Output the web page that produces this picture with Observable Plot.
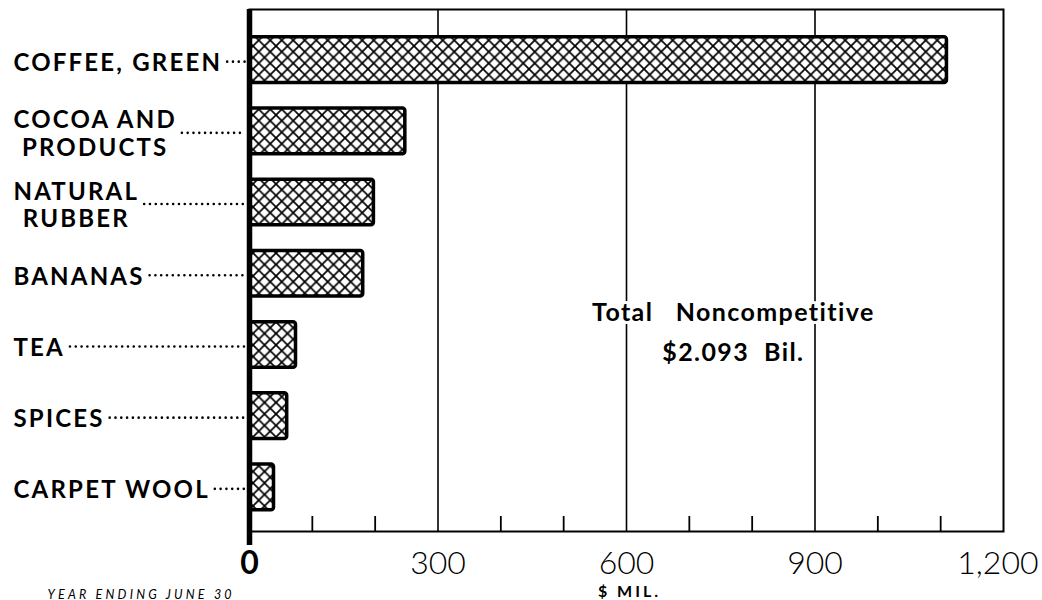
<!DOCTYPE html>
<html><head><meta charset="utf-8">
<script src="https://cdn.jsdelivr.net/npm/d3@7"></script>
<script src="https://cdn.jsdelivr.net/npm/@observablehq/plot@0.6"></script>
<style>
body{margin:0;background:#fff;}
#chart svg{display:block;}
</style></head><body><div id="chart"></div>
<script>
// ---- data ----
const categories = ["COFFEE, GREEN", "COCOA AND\nPRODUCTS", "NATURAL\nRUBBER", "BANANAS", "TEA", "SPICES", "CARPET WOOL"];
const values = [1110, 248, 198, 181, 74, 60, 39];
const majorTicks = [0, 300, 600, 900, 1200];
const majorTickLabels = ["0", "300", "600", "900", "1,200"];
const gridValues = [300, 600, 900];
const minorTicks = [100, 200, 400, 500, 700, 800, 1000, 1100];
const axisLabel = "$ MIL.";
const noteLines = ["Total\u00a0\u00a0 Noncompetitive", "$2.093\u00a0 Bil."];
const noteX = 770;
const caption = "YEAR ENDING JUNE 30";

const data = categories.map((c, i) => ({category: c, value: values[i]}));
const ticks = majorTicks.map((v, i) => ({value: v, label: majorTickLabels[i]}));
const note = [{x: noteX, text: noteLines.join("\n")}];

const W = 1042, H = 600, mL = 249, mR = 39, mT = 9, mB = 69;
const tickFont = {frameAnchor: "bottom", dy: 32, lineAnchor: "middle", fontSize: 32, fontFamily: "Lato", fill: "#000"};
const plot = Plot.plot({
  width: W, height: H, marginLeft: mL, marginRight: mR, marginTop: mT, marginBottom: mB,
  x: {domain: [0, 1200], axis: null},
  y: {domain: categories, axis: null, paddingInner: 0.36, paddingOuter: 0.3, insetTop: 6.5, round: false},
  style: {background: "#fff", color: "#000"},
  marks: [
    Plot.ruleX(gridValues, {stroke: "#000", strokeWidth: 1.6}),
    Plot.ruleX(minorTicks, {stroke: "#000", strokeWidth: 1.8, insetTop: H - mT - mB - 15}),
    Plot.frame({stroke: "#000", strokeWidth: 2}),
    Plot.barX(data, {x: "value", y: "category", fill: "url(#xhatch)", stroke: "#000", strokeWidth: 3.5, rx: 2.5}),
    Plot.ruleX([0], {stroke: "#000", strokeWidth: 5.5, insetBottom: -14}),
    Plot.text(data, {y: "category", text: "category", frameAnchor: "left", textAnchor: "start", dx: -236, dy: 2,
      fontSize: 24, fontWeight: 700, fontFamily: "Lato", lineHeight: 1.15, lineAnchor: "middle", fill: "#000"}),
    Plot.text(ticks.slice(0, 1), {...tickFont, x: "value", text: "label", fontWeight: 700}),
    Plot.text(ticks.slice(1, -1), {...tickFont, x: "value", text: "label", fontWeight: 300}),
    Plot.text(ticks.slice(-1), {...tickFont, x: "value", text: "label", fontWeight: 300, textAnchor: "end", dx: 35}),
    Plot.text([axisLabel], {text: d => d, frameAnchor: "bottom", dy: 60, dx: 3, lineAnchor: "middle",
      fontSize: 16, fontWeight: 700, fontFamily: "Lato", fill: "#000"}),
    Plot.text([caption], {text: d => d, frameAnchor: "bottom-left", textAnchor: "start", dx: -202, dy: 63, lineAnchor: "middle",
      fontSize: 12.5, fontStyle: "italic", fontFamily: "Lato", fill: "#000"}),
    Plot.text(note, {x: "x", text: "text", frameAnchor: "top", dy: 319, lineAnchor: "middle", lineHeight: 1.6,
      fontSize: 25, fontWeight: 700, fontFamily: "Lato", fill: "#000", stroke: "#fff", strokeWidth: 6})
  ]
});

// hatch pattern
const ns = "http://www.w3.org/2000/svg";
const defs = document.createElementNS(ns, "defs");
const P = 11.5;
defs.innerHTML = `<pattern id="xhatch" patternUnits="userSpaceOnUse" width="${P}" height="${P}">
<rect width="${P}" height="${P}" fill="#fff"/>
<path d="M0,0L${P},${P}M${P},0L0,${P}M-2,${P-2}L2,${P+2}M${P-2},-2L${P+2},2" stroke="#000" stroke-width="1.7" fill="none"/>
</pattern>`;
plot.insertBefore(defs, plot.firstChild);

document.getElementById("chart").append(plot);

// text styling (letter spacing per text mark, in mark order)
const groups = plot.querySelectorAll('g[aria-label="text"]');
const spacing = ["2.2px", "0px", "0px", "0px", "3px", "3.2px", "1.4px"];
groups.forEach((g, i) => g.style.letterSpacing = spacing[i] || "0px");

// center multi-line labels and draw dotted leaders
const labelTexts = groups[0].querySelectorAll("text");
const ys = plot.scale("y");
const svgRect = plot.getBoundingClientRect();
const leaderG = document.createElementNS(ns, "g");
labelTexts.forEach((t, i) => {
  const spans = t.querySelectorAll("tspan");
  if (spans.length > 1) {
    const ws = Array.from(spans, s => s.getComputedTextLength());
    const m = Math.max(...ws);
    spans.forEach((s, j) => s.setAttribute("x", (m - ws[j]) / 2));
  }
  const r = t.getBoundingClientRect();
  const x1 = r.right - svgRect.left + 5;
  const cy = ys.apply(categories[i]) + ys.bandwidth / 2 + 2;
  const ln = document.createElementNS(ns, "line");
  ln.setAttribute("x1", x1); ln.setAttribute("x2", mL - 4);
  ln.setAttribute("y1", cy); ln.setAttribute("y2", cy);
  ln.setAttribute("stroke", "#000"); ln.setAttribute("stroke-width", "2.6");
  ln.setAttribute("stroke-linecap", "round"); ln.setAttribute("stroke-dasharray", "0 5.8");
  leaderG.append(ln);
});
plot.append(leaderG);
</script></body></html>
